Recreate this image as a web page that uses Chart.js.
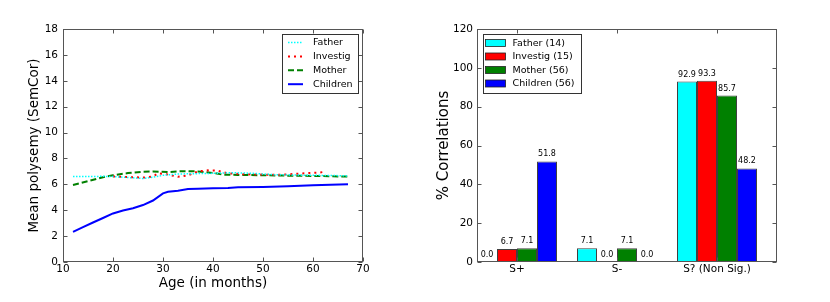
<!DOCTYPE html>
<html>
<head>
<meta charset="utf-8">
<script src="https://cdn.jsdelivr.net/npm/chart.js@4/dist/chart.umd.min.js"></script>
<style>
  html, body { margin: 0; padding: 0; background: #fff; }
  .wrap { position: absolute; top: 0; width: 415px; height: 302px; }
</style>
</head>
<body>
<div class="wrap" style="left:0"><canvas id="polysemy-chart" width="415" height="302"></canvas></div>
<div class="wrap" style="left:415px"><canvas id="corr-chart" width="415" height="302"></canvas></div>
<script>
// Left panel: mean polysemy by age
const fatherAges = [12, 15, 18, 20, 22, 24, 26, 28, 30, 33, 36, 40, 44, 48, 52, 56, 60, 64, 67];
const fatherPoly = [6.6, 6.6, 6.62, 6.6, 6.55, 6.5, 6.45, 6.55, 6.7, 6.8, 6.82, 6.85, 6.9, 6.85, 6.75, 6.72, 6.7, 6.68, 6.65];
const investigAges = [20, 22, 24, 26, 28, 29, 31, 33, 35, 37, 39, 41, 43, 46, 50, 54, 57, 59, 61, 62];
const investigPoly = [6.6, 6.58, 6.55, 6.52, 6.6, 6.85, 6.75, 6.58, 6.7, 7.0, 7.08, 7.05, 6.85, 6.78, 6.75, 6.75, 6.82, 6.87, 6.9, 6.95];
const motherAges = [12, 15, 18, 20, 23, 26, 28, 31, 34, 37, 40, 42, 45, 50, 55, 60, 64, 67];
const motherPoly = [5.95, 6.25, 6.55, 6.7, 6.87, 6.97, 7.0, 6.95, 7.02, 7.0, 6.88, 6.75, 6.73, 6.7, 6.67, 6.65, 6.62, 6.6];
const childAges = [12, 14, 16, 18, 20, 22, 24, 26, 28, 30, 31, 33, 35, 37, 40, 43, 45, 50, 55, 60, 67];
const childPoly = [2.33, 2.7, 3.05, 3.4, 3.75, 3.98, 4.15, 4.4, 4.75, 5.3, 5.42, 5.5, 5.63, 5.65, 5.7, 5.72, 5.78, 5.8, 5.85, 5.92, 6.0];

// Right panel: % correlations per category
const corrCategories = ['S+', 'S-', 'S? (Non Sig.)'];
const fatherPct = [0.0, 7.1, 92.9];
const investigPct = [6.7, 0.0, 93.3];
const motherPct = [7.1, 7.1, 85.7];
const childrenPct = [51.8, 0.0, 48.2];

Chart.defaults.font.family = 'DejaVu Sans';
Chart.defaults.color = '#000';

const pairs = (xs, ys) => xs.map((x, i) => ({ x: x, y: ys[i] }));

// Matplotlib-like frame with inward ticks on all four sides
const framePlugin = {
  id: 'frame',
  afterDraw(chart) {
    const { ctx, chartArea: a, scales } = chart;
    const L = Math.round(a.left) + 0.5, R = Math.round(a.right) - 0.5;
    const T = Math.round(a.top) + 0.5, B = Math.round(a.bottom) - 0.5;
    ctx.save();
    ctx.strokeStyle = '#555';
    ctx.lineWidth = 1;
    ctx.beginPath();
    scales.x.ticks.forEach(t => {
      const px = Math.round(scales.x.getPixelForValue(t.value)) + 0.5;
      ctx.moveTo(px, B); ctx.lineTo(px, B - 4);
      ctx.moveTo(px, T); ctx.lineTo(px, T + 4);
    });
    scales.y.ticks.forEach(t => {
      const py = Math.round(scales.y.getPixelForValue(t.value)) + 0.5;
      ctx.moveTo(L, py); ctx.lineTo(L + 4, py);
      ctx.moveTo(R, py); ctx.lineTo(R - 4, py);
    });
    ctx.stroke();
    ctx.strokeRect(L, T, R - L, B - T);
    ctx.restore();
  }
};

// Boxed legend drawn from the datasets
const boxLegend = {
  id: 'boxLegend',
  afterDraw(chart, args, opts) {
    const { ctx, chartArea: a } = chart;
    const x0 = opts.alignRight ? a.right - opts.offX - opts.width : a.left + opts.offX;
    const y0 = a.top + opts.offY;
    ctx.save();
    ctx.fillStyle = '#fff';
    ctx.fillRect(x0, y0, opts.width, opts.height);
    ctx.strokeStyle = '#333';
    ctx.lineWidth = 1;
    ctx.strokeRect(Math.round(x0) + 0.5, Math.round(y0) + 0.5, opts.width, opts.height);
    ctx.font = '9.5px "DejaVu Sans"';
    ctx.textBaseline = 'middle';
    chart.data.datasets.forEach((ds, i) => {
      const ry = y0 + opts.firstRow + i * opts.rowGap;
      if (opts.kind === 'line') {
        ctx.strokeStyle = ds.borderColor;
        ctx.lineWidth = ds.borderWidth;
        ctx.setLineDash(ds.borderDash || []);
        ctx.beginPath();
        ctx.moveTo(x0 + 6, ry); ctx.lineTo(x0 + 21, ry);
        ctx.stroke();
        ctx.setLineDash([]);
      } else {
        ctx.fillStyle = ds.backgroundColor;
        ctx.fillRect(x0 + 3, ry - 3.5, 20, 7);
        ctx.strokeStyle = '#222';
        ctx.lineWidth = 0.8;
        ctx.strokeRect(x0 + 3, ry - 3.5, 20, 7);
      }
      ctx.fillStyle = '#000';
      ctx.fillText(ds.label, x0 + opts.textX, ry + 0.5);
    });
    ctx.restore();
  }
};

// Value labels above bars
const barLabels = {
  id: 'barLabels',
  afterDatasetsDraw(chart) {
    const { ctx } = chart;
    ctx.save();
    ctx.font = '8px "DejaVu Sans"';
    ctx.fillStyle = '#000';
    ctx.textAlign = 'center';
    ctx.textBaseline = 'bottom';
    chart.data.datasets.forEach((ds, di) => {
      chart.getDatasetMeta(di).data.forEach((bar, i) => {
        ctx.fillText(ds.data[i].y.toFixed(1), bar.x, bar.y - 3);
      });
    });
    ctx.restore();
  }
};

new Chart(document.getElementById('polysemy-chart'), {
  type: 'line',
  data: {
    datasets: [
      { label: 'Father', data: pairs(fatherAges, fatherPoly), borderColor: '#00ffff', borderWidth: 1.5, borderDash: [1.5, 1.5] },
      { label: 'Investig', data: pairs(investigAges, investigPoly), borderColor: '#ff0000', borderWidth: 2, borderDash: [2, 4] },
      { label: 'Mother', data: pairs(motherAges, motherPoly), borderColor: '#008000', borderWidth: 2, borderDash: [6, 3] },
      { label: 'Children', data: pairs(childAges, childPoly), borderColor: '#0000ff', borderWidth: 2 }
    ]
  },
  options: {
    responsive: false,
    animation: false,
    devicePixelRatio: 1,
    layout: { padding: { top: 29, right: 52, left: 0, bottom: 0 } },
    elements: { point: { radius: 0 }, line: { tension: 0 } },
    scales: {
      x: {
        type: 'linear', min: 10, max: 70,
        grid: { display: false, drawTicks: false }, border: { display: false },
        ticks: { stepSize: 10, padding: 1, font: { size: 10.5 }, maxRotation: 0 },
        title: { display: true, text: 'Age (in months)', font: { size: 13.5 }, padding: { top: 0, bottom: 10 } },
        afterFit: s => { s.height = 40; }
      },
      y: {
        min: 0, max: 18,
        grid: { display: false, drawTicks: false }, border: { display: false },
        ticks: { stepSize: 2, padding: 5, font: { size: 10.5 } },
        title: { display: true, text: 'Mean polysemy (SemCor)', font: { size: 13.5 }, padding: { top: 26, bottom: 0 } },
        afterFit: s => { s.width = 63; }
      }
    },
    plugins: {
      legend: { display: false },
      tooltip: { enabled: false },
      boxLegend: { kind: 'line', alignRight: true, offX: 5, offY: 5, width: 76, height: 59, firstRow: 8.5, rowGap: 13.9, textX: 31 }
    }
  },
  plugins: [framePlugin, boxLegend]
});

const catPos = corrCategories.map((c, i) => i + 0.4);

new Chart(document.getElementById('corr-chart'), {
  type: 'bar',
  data: {
    datasets: [
      { label: 'Father (14)', data: pairs(catPos, fatherPct), backgroundColor: '#00ffff' },
      { label: 'Investig (15)', data: pairs(catPos, investigPct), backgroundColor: '#ff0000' },
      { label: 'Mother (56)', data: pairs(catPos, motherPct), backgroundColor: '#008000' },
      { label: 'Children (56)', data: pairs(catPos, childrenPct), backgroundColor: '#0000ff' }
    ]
  },
  options: {
    responsive: false,
    animation: false,
    devicePixelRatio: 1,
    layout: { padding: { top: 29, right: 53, left: 0, bottom: 0 } },
    datasets: { bar: { categoryPercentage: 0.8, barPercentage: 1.0, borderColor: 'rgba(0,0,0,0.75)', borderWidth: 1, borderSkipped: false } },
    scales: {
      x: {
        type: 'linear', min: 0, max: 3, offset: false,
        grid: { display: false, drawTicks: false, offset: false }, border: { display: false },
        afterBuildTicks: s => { s.ticks = catPos.map(v => ({ value: v })); },
        ticks: { autoSkip: false, padding: 1, font: { size: 10.5 }, maxRotation: 0,
          callback: (v, i) => corrCategories[i] },
        afterFit: s => { s.height = 40; }
      },
      y: {
        min: 0, max: 120,
        grid: { display: false, drawTicks: false }, border: { display: false },
        ticks: { stepSize: 20, padding: 4, font: { size: 10.5 } },
        title: { display: true, text: '% Correlations', font: { size: 15 }, padding: { top: 20, bottom: 0 } },
        afterFit: s => { s.width = 62; }
      }
    },
    plugins: {
      legend: { display: false },
      tooltip: { enabled: false },
      boxLegend: { kind: 'patch', alignRight: false, offX: 5.5, offY: 5, width: 98, height: 59, firstRow: 9, rowGap: 13.5, textX: 30 }
    }
  },
  plugins: [framePlugin, barLabels, boxLegend]
});
</script>
</body>
</html>
